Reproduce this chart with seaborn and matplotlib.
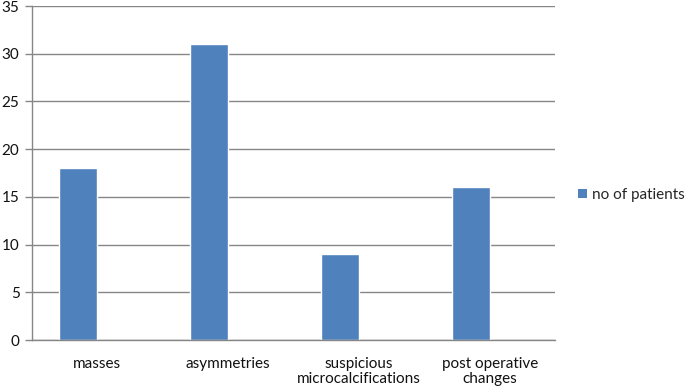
import pandas as pd
import numpy as np
import matplotlib.pyplot as plt
import seaborn as sns
from matplotlib.patches import Patch

# Data
categories = ["masses", "asymmetries", "suspicious\nmicrocalcifications", "post operative\nchanges"]
patients = [18, 31, 9, 16]
series_name = "no of patients"
# the original has an empty second series, which pushes the bars left of centre
empty_series = [np.nan, np.nan, np.nan, np.nan]

BAR_COLOR = "#4F81BD"
GRID_COLOR = "#868686"

sns.set_theme(style="white")
plt.rcParams['font.family'] = ['Lato', 'DejaVu Sans']

df = pd.DataFrame({
    "category": categories * 2,
    "count": patients + empty_series,
    "series": [series_name] * len(categories) + ["empty"] * len(categories),
})

fig = plt.figure(figsize=(6.85, 3.9), dpi=100)
ax = fig.add_axes([32 / 685, 50 / 390, 523 / 685, 334 / 390])

sns.barplot(data=df, x="category", y="count", hue="series",
            hue_order=[series_name, "empty"], order=categories,
            palette={series_name: BAR_COLOR, "empty": BAR_COLOR},
            width=0.58, dodge=True, saturation=1, legend=False, ax=ax)

ax.set_ylim(0, 35)
ax.set_yticks(range(0, 36, 5))
ax.set_xlim(-0.5, len(categories) - 0.5)
ax.set_xlabel("")
ax.set_ylabel("")

# horizontal gridlines like the Excel original
ax.yaxis.grid(True, color=GRID_COLOR, linewidth=1)
ax.set_axisbelow(True)

for side in ["top", "right"]:
    ax.spines[side].set_visible(False)
for side in ["left", "bottom"]:
    ax.spines[side].set_color(GRID_COLOR)
    ax.spines[side].set_linewidth(1)

# category ticks sit between the groups
ax.set_xticks(range(len(categories)))
ax.set_xticklabels(categories)
ax.set_xticks([i - 0.5 for i in range(len(categories) + 1)], minor=True)
ax.tick_params(axis="x", which="minor", length=5, color=GRID_COLOR, width=1)
ax.tick_params(axis="x", which="major", length=0, labelsize=11, pad=12, colors="#111111")
ax.tick_params(axis="y", length=5, color=GRID_COLOR, width=1, labelsize=11, pad=4,
               colors="#111111", left=True)
for lbl in ax.get_xticklabels():
    lbl.set_linespacing(1.15)

handles = [Patch(facecolor=BAR_COLOR, edgecolor="none", label=series_name)]
fig.legend(handles=handles, loc="center left", bbox_to_anchor=(578 / 685, 0.5),
           frameon=False, fontsize=11, handlelength=0.6, handleheight=0.6,
           handletextpad=0.3, borderpad=0, borderaxespad=0)

fig.savefig("out.png", dpi=100)
